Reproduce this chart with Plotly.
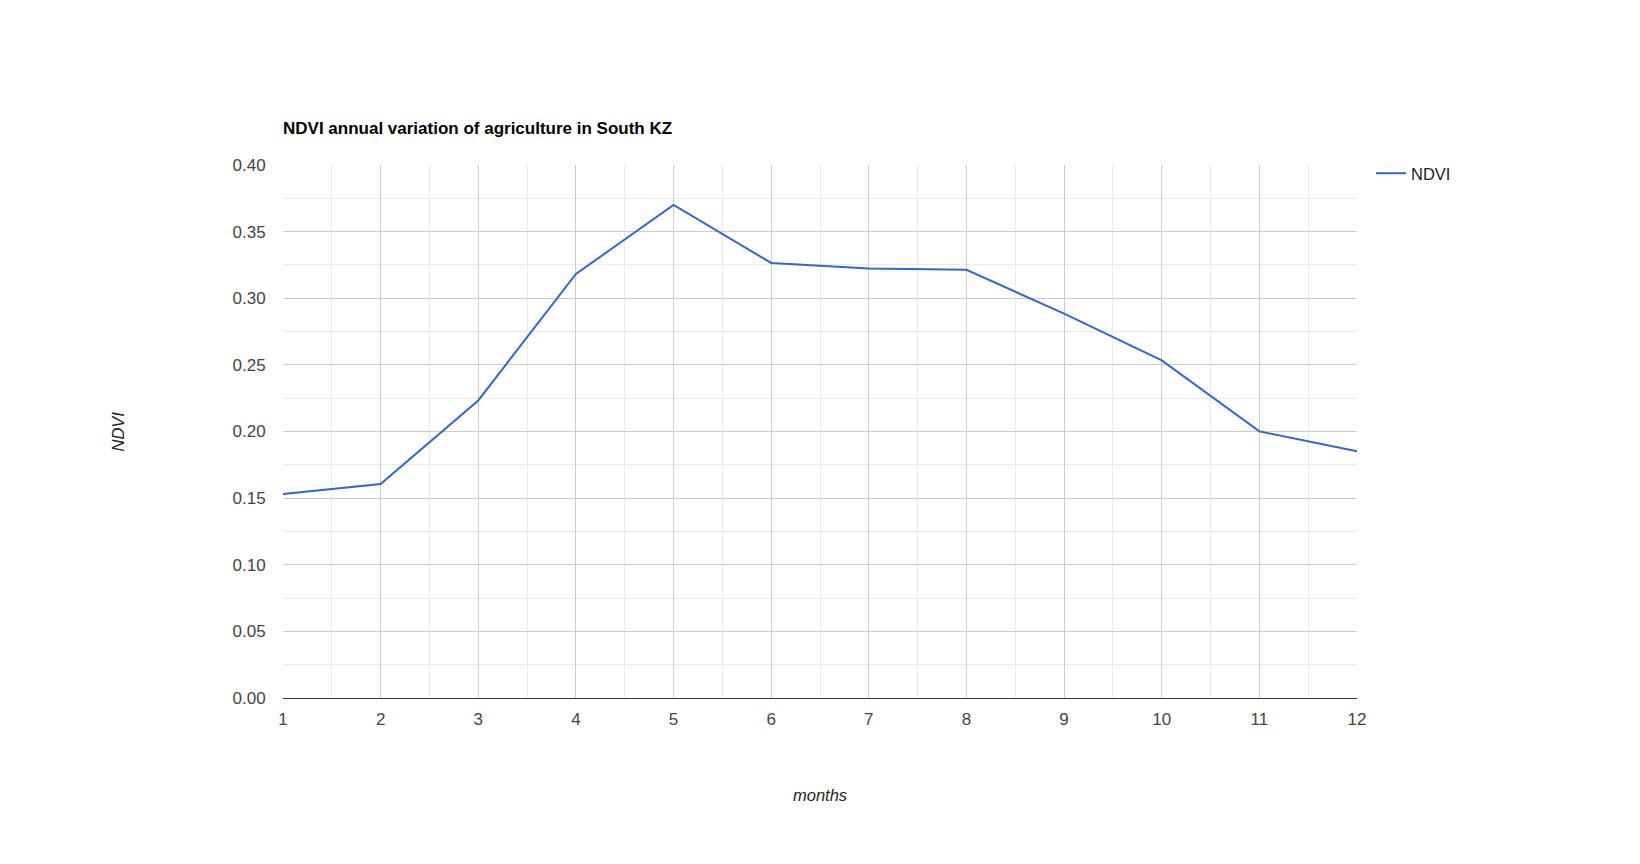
import plotly.graph_objects as go

months = [1, 2, 3, 4, 5, 6, 7, 8, 9, 10, 11, 12]
ndvi = [0.153, 0.1606, 0.2233, 0.3182, 0.3700, 0.3265,
        0.3224, 0.3214, 0.2884, 0.2534, 0.2001, 0.1851]
y_ticks = [0.0, 0.05, 0.10, 0.15, 0.20, 0.25, 0.30, 0.35, 0.40]

FONT = "Arial, Liberation Sans, sans-serif"

fig = go.Figure(go.Scatter(
    x=months, y=ndvi, mode="lines", name="NDVI",
    line=dict(color="#3366cc", width=2),
))

# page body has an 8px margin, so shift the plot area back by that much
fig.update_layout(
    width=1640, height=864,
    margin=dict(l=275, r=291, t=157, b=174),
    plot_bgcolor="white", paper_bgcolor="white",
    font=dict(family=FONT, size=17, color="#444444"),
    showlegend=True,
    legend=dict(x=1 + 14 / 1074, y=1 + 9 / 533, xanchor="left", yanchor="top",
                xref="paper", yref="paper",
                font=dict(size=16.5, color="#222222"),
                bgcolor="rgba(0,0,0,0)", itemwidth=30),
    title=dict(text="<b>NDVI annual variation of agriculture in South KZ</b>",
               x=275 / 1640, xanchor="left", xref="container",
               y=1 - 120 / 864, yanchor="middle", yref="container",
               font=dict(size=17, color="#000000", family=FONT)),
)

fig.update_xaxes(
    range=[1, 12], tickvals=months, ticktext=[str(m) for m in months],
    showgrid=True, gridcolor="#cccccc", gridwidth=1,
    minor=dict(dtick=0.5, showgrid=True, gridcolor="#ebebeb"),
    zeroline=False, showline=False,
    ticks="outside", ticklen=6, tickcolor="rgba(0,0,0,0)",
    tickfont=dict(size=17, color="#444444"),
)
fig.update_yaxes(
    range=[0, 0.4], tickvals=y_ticks, ticktext=[f"{v:.2f}" for v in y_ticks],
    showgrid=True, gridcolor="#cccccc", gridwidth=1,
    minor=dict(dtick=0.025, showgrid=True, gridcolor="#ebebeb"),
    zeroline=True, zerolinecolor="#333333", zerolinewidth=1,
    showline=False,
    ticks="outside", ticklen=13, tickcolor="rgba(0,0,0,0)",
    tickfont=dict(size=17, color="#444444"),
)

# Axis titles placed like the original
fig.add_annotation(text="<i>months</i>", xref="paper", yref="paper",
                   x=0.5, y=-(795 - 698) / 533, showarrow=False,
                   xanchor="center", yanchor="middle",
                   font=dict(size=16.5, color="#222222"))
fig.add_annotation(text="<i>NDVI</i>", xref="paper", yref="paper",
                   x=-(283 - 117) / 1074, y=0.5, textangle=-90, showarrow=False,
                   xanchor="center", yanchor="middle",
                   font=dict(size=16.5, color="#222222"))

fig.write_html("out.html")
